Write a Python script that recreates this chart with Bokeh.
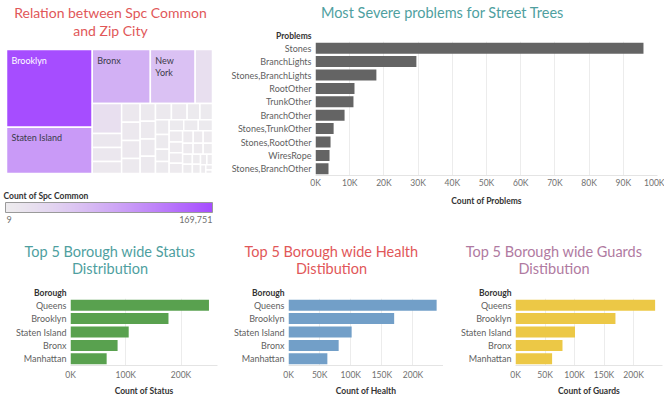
from bokeh.plotting import figure
from bokeh.models import (Range1d, FactorRange, Label, ColorBar, LinearColorMapper, FixedTicker,
                          SingleIntervalTicker, CustomJSTickFormatter, ColumnDataSource)
from bokeh.core.properties import value
from bokeh.layouts import row, column
from bokeh.embed import file_html
from bokeh.resources import INLINE

FONT = "Lato"

# ---------------- data ----------------
zip_city = ["Brooklyn", "Staten Island", "Bronx", "New York", "Jamaica", "Flushing",
            "Forest Hills", "Bayside", "Fresh Meadows", "Astoria", "Oakland Gardens", "Ridgewood",
            "Whitestone", "Queens Village", "Middle Village", "Saint Albans", "Springfield Gardens",
            "Maspeth", "Howard Beach", "Elmhurst", "Far Rockaway", "Ozone Park", "Woodside",
            "Little Neck", "South Ozone Park", "Cambria Heights", "College Point", "Richmond Hill",
            "Rosedale", "Glen Oaks", "Hollis", "Kew Gardens", "Jackson Heights", "Long Island City",
            "Arverne", "East Elmhurst", "Bellerose", "Corona", "Rego Park", "Sunnyside", "Woodhaven",
            "Rockaway Park", "Floral Park", "South Richmond Hill", "Breezy Point", "Glendale",
            "Rockaway Beach", "Broad Channel"]
spc_count = [169751, 101400, 79800, 61600, 23800, 22600,
             10500, 10400, 9000, 8900, 8600, 8500,
             7100, 7000, 6900, 6800, 6700,
             6600, 6500, 5300, 5200, 5200, 5100,
             4300, 4200, 4100, 4100, 4000,
             3900, 3700, 3600, 3500, 3400, 3200,
             3000, 2900, 2800, 2600, 2500, 2300, 2100,
             1900, 1700, 1500, 1200, 900,
             600, 9]

problems = ["Stones", "BranchLights", "Stones,BranchLights", "RootOther", "TrunkOther",
            "BranchOther", "Stones,TrunkOther", "Stones,RootOther", "WiresRope", "Stones,BranchOther"]
problem_count = [95900, 29500, 17800, 11400, 11100, 8500, 5300, 4400, 4100, 3800]

boroughs = ["Queens", "Brooklyn", "Staten Island", "Bronx", "Manhattan"]
status_count = [250551, 177293, 105318, 85203, 65423]
health_count = [237974, 169744, 101443, 80585, 62427]
guards_count = [236500, 169300, 100800, 79600, 62000]

TEXT_DARK = "#333333"
TICK_GRAY = "#707070"
LABEL_GRAY = "#5f5f5f"
GRID = "#ececec"


def ramp(c0, c1, n=256, gamma=1.3):
    out = []
    for i in range(n):
        t = (i / (n - 1)) ** gamma
        r = [round(a + (b - a) * t) for a, b in zip(c0, c1)]
        out.append("#%02x%02x%02x" % tuple(r))
    return out


def treemap_layout(vals, x, y, w, h):
    total = float(sum(vals))
    areas = [v * w * h / total for v in vals]
    rects = []
    i, n = 0, len(areas)
    while i < n:
        side = h if w >= h else w

        def first_ratio(rw):
            thick = sum(rw) / side
            length = rw[0] / thick
            return max(thick / length, length / thick)

        rw = [areas[i]]
        j = i + 1
        while j < n and first_ratio(rw + [areas[j]]) <= first_ratio(rw):
            rw.append(areas[j])
            j += 1
        thick = sum(rw) / side
        if w >= h:
            yy = y
            for a in rw:
                l = a / thick
                rects.append((x, yy, thick, l))
                yy += l
            x += thick
            w -= thick
        else:
            xx = x
            for a in rw:
                l = a / thick
                rects.append((xx, y, l, thick))
                xx += l
            y += thick
            h -= thick
        i = j
    return rects


def blank_fig(W, H):
    f = figure(width=W, height=H, x_range=Range1d(0, W), y_range=Range1d(H, 0),
               output_backend="svg", toolbar_location=None, min_border=0,
               x_axis_location=None, y_axis_location=None, outline_line_color=None,
               frame_align=False)
    f.grid.visible = False
    return f


# ---------------- treemap ----------------
TM_W, TOP_H = 220, 230
tm = blank_fig(TM_W, TOP_H)

palette = ramp((237, 235, 238), (166, 77, 255))
lo, hi = min(spc_count), max(spc_count)
mapper = LinearColorMapper(palette=palette, low=lo, high=hi)

rects = treemap_layout(spc_count, 6, 49, 206, 124)
src = ColumnDataSource(dict(
    l=[r[0] for r in rects], r=[r[0] + r[2] for r in rects],
    t=[r[1] for r in rects], b=[r[1] + r[3] for r in rects],
    count=spc_count, name=zip_city))
tm.quad(left="l", right="r", top="t", bottom="b", source=src,
        fill_color={"field": "count", "transform": mapper}, line_color="white", line_width=1.5)

lx, ly, lt, lc = [], [], [], []
for (x, y, w, h), nm, c in zip(rects, zip_city, spc_count):
    if w >= 40 and h >= 20:
        txt = nm if len(nm) * 5.2 <= w - 10 else nm.replace(" ", "\n")
        lx.append(x + 5)
        ly.append(y + 5)
        lt.append(txt)
        lc.append("white" if c / hi > 0.7 else "#3a3a4a")
tm.text(x="x", y="y", text="t", text_color="c", source=ColumnDataSource(dict(x=lx, y=ly, t=lt, c=lc)),
        text_font=value(FONT), text_font_size="9px", text_baseline="top", text_align="left",
        text_line_height=1.1)

tm.add_layout(Label(x=110, y=21, text="Relation between Spc Common\nand Zip City", text_font=FONT,
                    text_font_size="14px", text_color="#e15759", text_align="center",
                    text_baseline="middle", text_line_height=1.07))
tm.add_layout(Label(x=3, y=195, text="Count of Spc Common", text_font=FONT, text_font_size="8.5px",
                    text_font_style="bold", text_color=TEXT_DARK, text_baseline="middle"))
tm.add_layout(Label(x=6, y=219, text=f"{lo:,}", text_font=FONT, text_font_size="9px",
                    text_color=TICK_GRAY, text_baseline="middle"))
tm.add_layout(Label(x=212, y=219, text=f"{hi:,}", text_font=FONT, text_font_size="9px",
                    text_color=TICK_GRAY, text_baseline="middle", text_align="right"))
cb = ColorBar(color_mapper=mapper, orientation="horizontal", location=(5, 18), width=207, height=10,
              padding=0, margin=0, ticker=FixedTicker(ticks=[]), major_tick_line_color=None,
              major_label_text_font_size="0px", bar_line_color="#9a9a9a", border_line_color=None,
              background_fill_alpha=0)
tm.add_layout(cb)


# ---------------- bar charts ----------------
def bar_chart(cats, vals, color, W, H, fl, fr, ft, fb, x_end, interval, header, xlabel,
              title, tcolor, tsize, title_mid, tick_standoff, label_standoff):
    head = blank_fig(W, ft)
    head.add_layout(Label(x=W / 2, y=title_mid, text=title, text_font=FONT, text_font_size=tsize,
                          text_color=tcolor, text_align="center", text_baseline="middle",
                          text_line_height=0.98))
    head.add_layout(Label(x=fl - 4, y=ft - 6, text=header, text_font=FONT, text_font_size="8.5px",
                          text_font_style="bold", text_color=TEXT_DARK, text_align="right",
                          text_baseline="middle"))

    p = figure(width=W, height=H - ft, x_range=Range1d(0, x_end),
               y_range=FactorRange(factors=list(reversed(cats))),
               output_backend="svg", toolbar_location=None,
               min_border_left=fl, min_border_right=fr, min_border_top=0, min_border_bottom=fb,
               outline_line_color=None, frame_align=False)
    s = ColumnDataSource(dict(cat=cats, val=vals))
    p.hbar(y="cat", left=0, right="val", height=0.82, source=s, fill_color=color, line_color=None)
    p.ygrid.visible = False
    p.xgrid.grid_line_color = GRID
    xa = p.xaxis[0]
    xa.ticker = SingleIntervalTicker(interval=interval)
    xa.formatter = CustomJSTickFormatter(code="return (tick/1000).toFixed(0) + 'K';")
    xa.axis_line_color = "#e4e4e4"
    xa.major_tick_line_color = None
    xa.minor_tick_line_color = None
    xa.major_tick_out = 0
    xa.major_tick_in = 0
    xa.major_label_text_font = FONT
    xa.major_label_text_font_size = "8.5px"
    xa.major_label_text_color = TICK_GRAY
    xa.major_label_standoff = tick_standoff
    xa.axis_label = xlabel
    xa.axis_label_text_font = FONT
    xa.axis_label_text_font_size = "8.5px"
    xa.axis_label_text_font_style = "bold"
    xa.axis_label_text_color = TEXT_DARK
    xa.axis_label_standoff = label_standoff
    ya = p.yaxis[0]
    ya.axis_line_color = None
    ya.major_tick_line_color = None
    ya.minor_tick_line_color = None
    ya.major_tick_out = 0
    ya.major_tick_in = 0
    ya.major_label_standoff = 4
    ya.major_label_text_font = FONT
    ya.major_label_text_font_size = "9px"
    ya.major_label_text_color = LABEL_GRAY
    return column(head, p)


top = bar_chart(problems, problem_count, "#646464", 444, TOP_H, 95, 7, 41, 55, 100000, 10000,
                "Problems", "Count of Problems", "Most Severe problems for Street Trees",
                "#4f9f9f", "14.5px", 12, -2, 5)

BOT_H = 170
st = bar_chart(boroughs, status_count, "#59a14f", 219, BOT_H, 70, 2, 68, 35, 266000, 100000,
               "Borough", "Count of Status", "Top 5 Borough wide Status\nDistribution",
               "#4f9f9f", "14.5px", 29.5, 0, 3)
he = bar_chart(boroughs, health_count, "#729fc8", 224, BOT_H, 69, 0, 68, 35, 249000, 50000,
               "Borough", "Count of Health", "Top 5 Borough wide Health\nDistibution",
               "#e15759", "14.5px", 29.5, 0, 3)
gu = bar_chart(boroughs, guards_count, "#ecc846", 221, BOT_H, 72, 2, 68, 35, 249000, 50000,
               "Borough", "Count of Guards", "Top 5 Borough wide Guards\nDistibution",
               "#b07aa1", "14.5px", 29.5, 0, 3)

layout = column(row(tm, top), row(st, he, gu))
open("out.html", "w").write(file_html(layout, INLINE))
